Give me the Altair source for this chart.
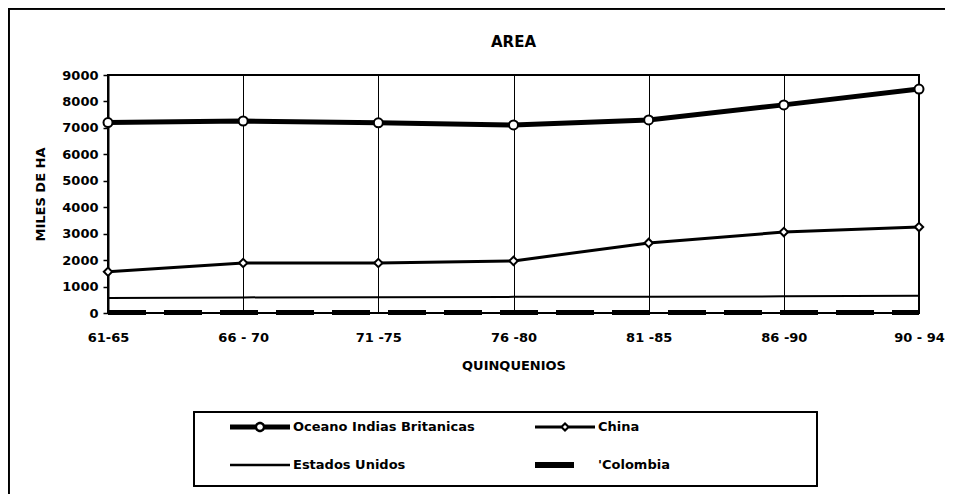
import altair as alt
import pandas as pd

periods = ["61-65", "66 - 70", "71 -75", "76 -80", "81 -85", "86 -90", "90 - 94"]
series_names = ["Oceano Indias Britanicas", "China", "Estados Unidos", "'Colombia"]
oceano = [7200, 7260, 7190, 7110, 7300, 7870, 8470]
china = [1560, 1890, 1890, 1970, 2650, 3060, 3250]
estados = [570, 590, 600, 610, 610, 630, 650]
colombia = [15, 15, 15, 15, 15, 15, 15]
y_ticks = [0, 1000, 2000, 3000, 4000, 5000, 6000, 7000, 8000, 9000]

rows = []
for name, vals in zip(series_names, [oceano, china, estados, colombia]):
    for p, v in zip(periods, vals):
        rows.append({"period": p, "series": name, "value": v})
df = pd.DataFrame(rows)

FONT = "DejaVu Sans"

# legend glyphs (custom symbol paths, unit = half symbol width)
g_oceano = ("M-1,-0.085H-0.15V0.085H-1Z M0.15,-0.085H1V0.085H0.15Z "
            "M0,-0.175A0.175,0.175 0 1 1 0,0.175A0.175,0.175 0 1 1 0,-0.175Z "
            "M0,-0.095A0.095,0.095 0 1 0 0,0.095A0.095,0.095 0 1 0 0,-0.095Z")
g_china = ("M-1,-0.05H-0.12V0.05H-1Z M0.12,-0.05H1V0.05H0.12Z "
           "M0,-0.17L0.17,0L0,0.17L-0.17,0Z M0,-0.07L-0.07,0L0,0.07L0.07,0Z")
g_estados = "M-1,-0.04H1V0.04H-1Z"
g_colombia = "M-1,-0.1H0.3V0.1H-1Z"
glyph_of = dict(zip(series_names, [g_oceano, g_china, g_estados, g_colombia]))
# legend fills column by column: order so rows read Oceano|China, Estados|Colombia
legend_order = [series_names[0], series_names[2], series_names[1], series_names[3]]
legend_glyphs = [glyph_of[n] for n in legend_order]

x_enc = alt.X("period:N", sort=periods,
              scale=alt.Scale(type="point", padding=0),
              axis=alt.Axis(title="QUINQUENIOS", labelAngle=0, grid=True,
                            gridColor="black", gridWidth=1, gridOpacity=1,
                            ticks=False, domain=False, labelPadding=18,
                            titlePadding=15))
y_enc = alt.Y("value:Q", scale=alt.Scale(domain=[0, 9000], nice=False),
              axis=alt.Axis(title="MILES DE HA", values=y_ticks, grid=False,
                            format="d", domainColor="black", domainWidth=2,
                            tickColor="black", tickWidth=1.5, tickSize=5,
                            labelPadding=5, titlePadding=14))

base = alt.Chart(df).encode(x=x_enc, y=y_enc)

def sel(name):
    return base.transform_filter(alt.datum.series == name)

l_oceano = sel(series_names[0]).mark_line(color="black", strokeWidth=5)
p_oceano = sel(series_names[0]).mark_point(shape="circle", size=81, filled=True,
                                           fill="white", stroke="black",
                                           strokeWidth=2, opacity=1)
l_china = sel(series_names[1]).mark_line(color="black", strokeWidth=3)
p_china = sel(series_names[1]).mark_point(shape="diamond", size=70, filled=True,
                                          fill="white", stroke="black",
                                          strokeWidth=2, opacity=1)
l_estados = sel(series_names[2]).mark_line(color="black", strokeWidth=2)
l_colombia = sel(series_names[3]).mark_line(color="black", strokeWidth=5,
                                            strokeDash=[38, 18])

legend_df = pd.DataFrame({"serie": series_names})
legend_layer = alt.Chart(legend_df).transform_filter("false").mark_point(
    filled=True, color="black", opacity=1
).encode(
    shape=alt.Shape("serie:N",
                    scale=alt.Scale(domain=legend_order, range=legend_glyphs),
                    legend=alt.Legend(orient="none", legendX=122, legendY=345,
                                      columns=2, title=None, symbolSize=3600,
                                      clipHeight=14, symbolFillColor="black",
                                      symbolStrokeWidth=0, symbolOpacity=1,
                                      labelFont=FONT, labelFontWeight="bold",
                                      labelFontSize=13, labelColor="black",
                                      labelOffset=3, columnPadding=60,
                                      rowPadding=24, padding=0, labelLimit=400))
)

legend_box = alt.Chart(legend_df).mark_rect(
    fillOpacity=0, stroke="black", strokeWidth=1.5
).encode(x=alt.value(86), x2=alt.value(709), y=alt.value(337), y2=alt.value(411))

frame = alt.Chart(legend_df).mark_rect(
    fillOpacity=0, stroke="black", strokeWidth=1.5
).encode(x=alt.value(-99.2), x2=alt.value(880), y=alt.value(-66.2), y2=alt.value(460))

chart = alt.layer(
    frame, legend_box, l_estados, l_colombia, l_china, l_oceano, p_china,
    p_oceano, legend_layer
).properties(
    width=811, height=238,
    title=alt.TitleParams("AREA", font=FONT, fontSize=15, fontWeight="bold",
                          anchor="middle", offset=-42, color="black"),
    autosize=alt.AutoSizeParams(type="none"),
    padding={"left": 100, "top": 67, "right": 26, "bottom": 181},
    background="white",
).configure_view(
    stroke="black", strokeWidth=2
).configure_axis(
    labelFont=FONT, labelFontWeight="bold", labelFontSize=13, labelColor="black",
    titleFont=FONT, titleFontWeight="bold", titleFontSize=13, titleColor="black",
)

chart.save("out.html", embed_options={"renderer": "svg", "actions": False})
